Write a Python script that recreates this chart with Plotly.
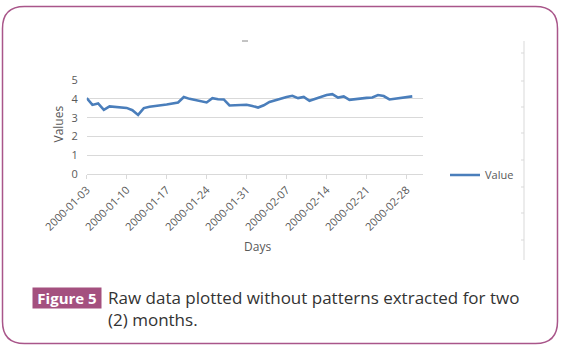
import plotly.graph_objects as go
import pandas as pd

W, H = 564, 353

dates = pd.bdate_range("2000-01-03", "2000-02-29").strftime("%Y-%m-%d").tolist()
values = [4.04, 3.68, 3.76, 3.42, 3.60,
          3.52, 3.40, 3.15, 3.51, 3.58,
          3.70, 3.74, 3.81, 4.10, 4.00,
          3.81, 4.04, 3.98, 3.97, 3.65,
          3.69, 3.62, 3.54, 3.66, 3.84,
          4.10, 4.16, 4.04, 4.10, 3.90,
          4.20, 4.25, 4.07, 4.13, 3.95,
          4.05, 4.07, 4.20, 4.15, 3.97,
          4.08, 4.13]
series_name = "Value"
y_ticks = [0, 1, 2, 3, 4, 5]
x_title = "Days"
y_title = "Values"
fig_label = "Figure 5"
caption = "Raw data plotted without patterns extracted for two<br>(2) months."

def px(x):
    return x / W

def py(y):
    return 1 - y / H

fig = go.Figure()
fig.add_trace(go.Scatter(x=dates, y=values, mode="lines", name=series_name,
                         line=dict(color="#4a7ebb", width=2.6)))

grey = "#595959"
fig.update_layout(
    width=W, height=H, margin=dict(l=0, r=0, t=0, b=0, autoexpand=False),
    paper_bgcolor="white", plot_bgcolor="white",
    font=dict(family="Open Sans", color=grey, size=10),
    xaxis=dict(domain=[px(86.7), px(423)], type="date", automargin=False,
               range=["2000-01-03", "2000-03-01 21:00"],
               tick0="2000-01-03", dtick=7 * 24 * 3600 * 1000,
               tickformat="%Y-%m-%d", tickangle=-45,
               showgrid=False, showline=True, linecolor="#d9d9d9", linewidth=1,
               ticks="outside", ticklen=4, tickcolor="#d9d9d9",
               tickfont=dict(size=11, color=grey), zeroline=False),
    yaxis=dict(domain=[py(174.3), py(80)], range=[0, 5], tickvals=y_ticks,
               automargin=False,
               showgrid=True, gridcolor="#d9d9d9", gridwidth=1,
               zeroline=False, showline=False, ticks="",
               tickfont=dict(size=11, color=grey), ticklabelstandoff=8),
    showlegend=True,
    legend=dict(x=px(445), y=py(175), xanchor="left", yanchor="middle",
                font=dict(size=11, color=grey), bgcolor="rgba(0,0,0,0)",
                itemwidth=30),
)

annotations = [
    dict(x=px(257), y=py(246), xref="paper", yref="paper", text=x_title,
         xanchor="center", yanchor="middle",
         showarrow=False, font=dict(size=12, color=grey)),
    dict(x=px(57.5), y=py(124), xref="paper", yref="paper", text=y_title,
         xanchor="center", yanchor="middle",
         textangle=-90, showarrow=False, font=dict(size=12, color=grey)),
    dict(x=px(67), y=py(298), xref="paper", yref="paper", text="<b>" + fig_label + "</b>",
         xanchor="center", yanchor="middle", width=68, height=20, borderpad=0,
         bgcolor="#a4507f",
         showarrow=False, font=dict(size=15, color="white", family="Open Sans")),
    dict(x=px(106), y=py(284), xref="paper", yref="paper", text=caption,
         xanchor="left", yanchor="top", align="left", showarrow=False,
         font=dict(size=17, color="#333333", family="Open Sans")),
]
fig.update_layout(annotations=annotations)

# rounded border
l, t, r, b, rad = 2.5, 6.5, 557.5, 343.5, 22
path = (f"M {px(l+rad)},{py(t)} L {px(r-rad)},{py(t)} "
        f"Q {px(r)},{py(t)} {px(r)},{py(t+rad)} L {px(r)},{py(b-rad)} "
        f"Q {px(r)},{py(b)} {px(r-rad)},{py(b)} L {px(l+rad)},{py(b)} "
        f"Q {px(l)},{py(b)} {px(l)},{py(b-rad)} L {px(l)},{py(t+rad)} "
        f"Q {px(l)},{py(t)} {px(l+rad)},{py(t)} Z")
shapes = [
    dict(type="path", path=path, xref="paper", yref="paper", layer="below",
         line=dict(color="#a9568a", width=1.5)),
    dict(type="line", x0=px(524), x1=px(524), y0=py(41), y1=py(260), layer="below",
         xref="paper", yref="paper", line=dict(color="#d9d9d9", width=1)),
    dict(type="line", x0=px(242), x1=px(248), y0=py(41), y1=py(41), layer="below",
         xref="paper", yref="paper", line=dict(color="#888888", width=1)),
]
for ty in [53, 81, 107, 133, 160, 187, 213, 240]:
    shapes.append(dict(type="line", x0=px(521), x1=px(524), y0=py(ty), y1=py(ty),
                       layer="below", xref="paper", yref="paper",
                       line=dict(color="#d9d9d9", width=1)))
fig.update_layout(shapes=shapes)

fig.write_html("out.html")
